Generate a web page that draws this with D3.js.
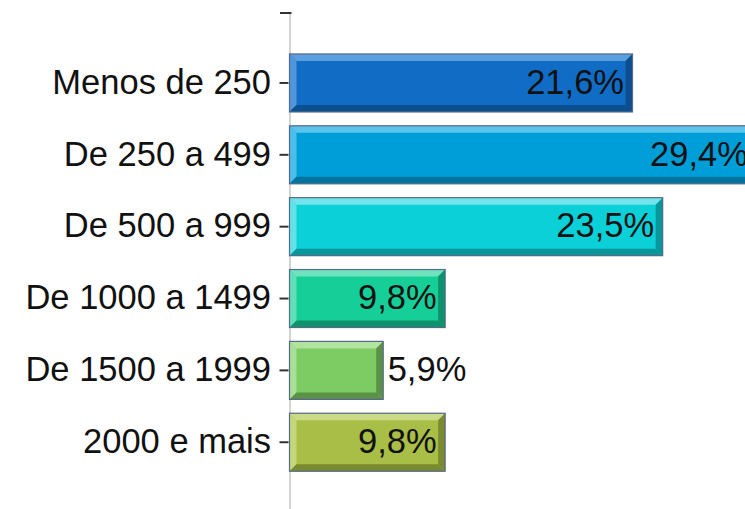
<!DOCTYPE html>
<html>
<head>
<meta charset="utf-8">
<script src="https://cdn.jsdelivr.net/npm/d3@7"></script>
<style>
    body { margin: 0; background: #fff; }
    svg { display: block; }
</style>
</head>
<body>
<div id="chart"></div>
<script>
// faixas e percentagens
const categories = ["Menos de 250", "De 250 a 499", "De 500 a 999", "De 1000 a 1499", "De 1500 a 1999", "2000 e mais"]
const values = [21.6, 29.4, 23.5, 9.8, 5.9, 9.8]

// cores por barra: face, bisel claro, bisel escuro
const fills = ["#106cc4", "#009ed8", "#0bd0d8", "#16cf98", "#7dcb63", "#a9be46"]
const lights = ["#5b9fde", "#5bc3ec", "#72e4ea", "#6fe3bd", "#b2e3a0", "#cbda86"]
const darks = ["#0b4f8f", "#00739f", "#0a959b", "#0f926b", "#5b9248", "#7a8a30"]

document.addEventListener("DOMContentLoaded", (e) => {

    const barChart = () => {
        var width = 745,
            height = 509;

        var axisX = 290,
            axisTop = 13,
            bevel = 7,
            fontSize = 34.5;

        var svg = d3.select('#chart')
            .append('svg')
            .attr("width", width)
            .attr("height", height)
            .style("overflow", "hidden")
            .append("g")

        var xScale = d3.scaleLinear().domain([0, 30]).range([axisX, axisX + 476.4])

        var yScale = d3.scaleBand()
            .domain(categories)
            .range([40.1, 485.1])
            .padding(0.193)

        let format = function(v) { return d3.format(".1f")(v).replace(".", ",") + "%" }

        let rows = categories.map(function(c, i) {
            return { cat: c, value: values[i], i: i }
        })

        // linha do eixo (cinza claro)
        svg.append("line")
            .attr("x1", axisX).attr("x2", axisX)
            .attr("y1", axisTop).attr("y2", height)
            .attr("stroke", "#d4d4d4")
            .attr("stroke-width", 2)

        let bars = svg.selectAll(".bar")
            .data(rows)
            .enter().append("g")
            .attr("class", "bar")

        bars.append("rect")
            .attr("x", xScale(0) - 0.5)
            .attr("y", function(d) { return yScale(d.cat) })
            .attr("width", function(d) { return xScale(d.value) - xScale(0) })
            .attr("height", yScale.bandwidth())
            .attr("fill", function(d) { return fills[d.i] })

        // bisel: topo e esquerda claros, base e direita escuros
        let pts = function(d, side) {
            let x0 = xScale(0) - 0.5, x1 = xScale(d.value) - 0.5
            let y0 = yScale(d.cat), y1 = y0 + yScale.bandwidth()
            let b = bevel
            let p = {
                top: [[x0, y0], [x1, y0], [x1 - b, y0 + b], [x0 + b, y0 + b]],
                left: [[x0, y0], [x0 + b, y0 + b], [x0 + b, y1 - b], [x0, y1]],
                bottom: [[x0, y1], [x0 + b, y1 - b], [x1 - b, y1 - b], [x1, y1]],
                right: [[x1, y0], [x1, y1], [x1 - b, y1 - b], [x1 - b, y0 + b]]
            }
            return p[side].map(function(q) { return q.join(",") }).join(" ")
        }

        ;["top", "left", "bottom", "right"].forEach(function(side) {
            bars.append("polygon")
                .attr("points", function(d) { return pts(d, side) })
                .attr("fill", function(d) {
                    return (side == "top" || side == "left") ? lights[d.i] : darks[d.i]
                })
                .attr("opacity", side == "left" ? 0.85 : 1)
        })

        bars.append("rect")
            .attr("x", xScale(0) - 0.5)
            .attr("y", function(d) { return yScale(d.cat) })
            .attr("width", function(d) { return xScale(d.value) - xScale(0) })
            .attr("height", yScale.bandwidth())
            .attr("fill", "none")
            .attr("stroke", "#56698a")
            .attr("stroke-width", 1.2)

        // rótulos de valor
        bars.append("text")
            .text(function(d) { return format(d.value) })
            .attr("y", function(d) { return yScale(d.cat) + yScale.bandwidth() / 2 })
            .attr("dy", "0.31em")
            .attr("font-family", "'Liberation Sans', Arial, sans-serif")
            .attr("font-size", fontSize)
            .attr("fill", "#111")
            .each(function(d) {
                let t = d3.select(this)
                let tw = this.getComputedTextLength()
                let bw = xScale(d.value) - xScale(0)
                if (bw < tw + 20) {
                    t.attr("x", xScale(d.value) + 4).attr("text-anchor", "start")
                } else {
                    t.attr("x", xScale(d.value) - 9).attr("text-anchor", "end")
                }
            })

        // eixo das categorias
        let axis = svg.append("g")
            .attr("transform", "translate(" + (axisX - 1.5) + ",0)")
            .call(d3.axisLeft(yScale).tickSize(9).tickPadding(8.5))

        axis.select(".domain").remove()
        axis.selectAll(".tick line")
            .attr("stroke", "#333")
            .attr("stroke-width", 2)
        axis.selectAll(".tick text")
            .attr("font-family", "'Liberation Sans', Arial, sans-serif")
            .attr("font-size", fontSize)
            .attr("fill", "#111")
            .attr("dy", "0.31em")

        // marca no topo do eixo
        svg.append("line")
            .attr("x1", axisX - 10).attr("x2", axisX + 1.5)
            .attr("y1", axisTop).attr("y2", axisTop)
            .attr("stroke", "#333")
            .attr("stroke-width", 2)
    }

    barChart()

})
</script>
</body>
</html>
